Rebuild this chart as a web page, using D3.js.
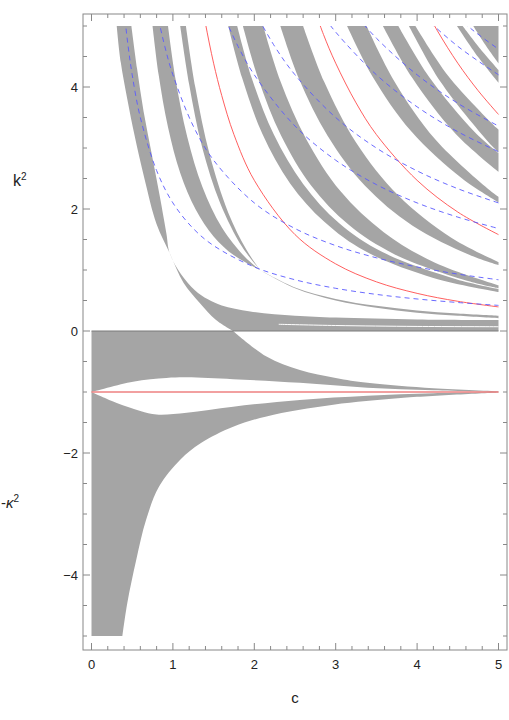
<!DOCTYPE html>
<html>
<head>
<meta charset="utf-8">
<script src="https://cdnjs.cloudflare.com/ajax/libs/d3/7.8.5/d3.min.js"></script>
<style>
body { margin: 0; background: #fff; }
text { font-family: "Liberation Sans", Arial, sans-serif; }
</style>
</head>
<body>
<svg id="chart" width="509" height="720"></svg>
<script>
// band edges, [c, k^2]
var pEdge = [[0.31,5],[0.36,4.4],[0.44,3.8],[0.53,3.2],[0.65,2.5],[0.8,1.75],[0.96,1.28],[1.13,0.79],[1.33,0.46],[1.53,0.18],[1.74,0]];
var qEdge = [[0.49,5],[0.56,4.3],[0.64,3.6],[0.74,2.9],[0.84,2.2],[0.92,1.6],[0.96,1.28],[1.1,0.93],[1.27,0.67],[1.43,0.52],[1.6,0.42],[1.95,0.32],[2.5,0.25],[3,0.22],[4,0.19],[5,0.18]];
var qGap = [[2.3,0.11],[3,0.09],[4,0.075],[5,0.07]];
var bLeft = [[0.75,5],[0.825,4.2],[0.94,3.34],[1.09,2.59],[1.28,1.99],[1.5,1.55],[1.75,1.24],[2.07,1.0]];
var bRight = [[0.94,5],[1.034,4.12],[1.175,3.19],[1.363,2.36],[1.6,1.7],[1.88,1.22],[2.07,1.0]];
var cLeft = [[1.09,5],[1.2,4.04],[1.36,3.01],[1.58,2.1],[1.85,1.38],[2.07,1.0]];
var cRight = [[1.16,5],[1.276,3.99],[1.45,2.9],[1.68,1.94],[1.9,1.34],[2.07,1.0]];
var bcLow = [[2.07,1.0],[2.5,0.7],[3,0.5],[3.5,0.38],[4,0.3],[4.5,0.25],[5,0.21]];
var bcHigh = [[2.07,1.0],[2.5,0.715],[3,0.526],[3.5,0.412],[4,0.337],[4.5,0.286],[5,0.25]];
var dLeft = [[1.68,5],[1.85,4.15],[2.1,3.23],[2.44,2.42],[2.86,1.79],[3.36,1.31],[4.2,0.87],[5,0.64]];
var dRight = [[1.79,5],[1.97,4.14],[2.24,3.22],[2.6,2.41],[3.04,1.77],[3.58,1.29],[4.48,0.85],[5,0.69]];
var eLeft = [[1.86,5],[2.05,4.13],[2.33,3.2],[2.7,2.38],[3.16,1.74],[3.72,1.26],[4.65,0.81],[5,0.7]];
var eRight = [[2.11,5],[2.32,4.1],[2.64,3.14],[3.06,2.29],[3.59,1.62],[4.22,1.12],[5,0.75]];
var fLeft = [[2.32,5],[2.55,4.13],[2.9,3.2],[3.36,2.38],[3.94,1.73],[4.64,1.25],[5,1.08]];
var fRight = [[2.6,5],[2.86,4.08],[3.25,3.09],[3.77,2.22],[4.42,1.53],[5,1.13]];
var gLeft = [[3.14,5],[3.454,4.17],[3.925,3.28],[4.553,2.5],[5,2.11]];
var gRight = [[3.38,5],[3.718,4.1],[4.225,3.14],[4.9,2.3],[5,2.2]];
var hLeft = [[3.58,5],[3.94,4.15],[4.475,3.23],[5,2.61]];
var hRight = [[3.77,5],[4.15,4.16],[4.71,3.26],[5,2.92]];
var iLeft = [[3.9,5],[4.29,4.08],[4.875,3.1],[5,2.93]];
var iRight = [[3.98,5],[4.378,4.19],[4.975,3.33],[5,3.3]];
var jLeft = [[4.49,5],[4.75,4.49],[5,4.07]];
var jRight = [[4.56,5],[4.78,4.62],[5,4.28]];
var kLeft = [[4.69,5],[4.85,4.67],[5,4.39]];
var kRight = [[4.69,5],[5,5]];
// negative region
var pNeg = [[1.74,0],[2.15,-0.42],[2.56,-0.64],[3,-0.77],[3.39,-0.85],[4.2,-0.94],[5,-0.99]];
var lensTop = [[0,-1],[0.51,-0.83],[0.92,-0.77],[1.17,-0.76],[1.74,-0.79],[2.56,-0.85],[3.39,-0.93],[4.2,-0.97],[5,-1.0]];
var lensBottom = [[0,-1],[0.31,-1.18],[0.6,-1.31],[0.8,-1.37],[1.17,-1.34],[1.74,-1.24],[2.56,-1.13],[3.39,-1.06],[4.2,-1.02],[5,-1.0]];
var lowEdge = [[0.38,-5],[0.44,-4.46],[0.55,-3.75],[0.67,-3.1],[0.83,-2.55],[1.09,-2.11],[1.34,-1.84],[1.74,-1.57],[2.15,-1.4],[2.97,-1.21],[3.8,-1.1],[5,-1.01]];
// red solid curves
var red1 = [[1.35,5.42],[1.4,5.04],[1.5,4.39],[1.6,3.86],[1.75,3.22],[2,2.47],[2.5,1.58],[3,1.1],[3.5,0.806],[4,0.617],[4.5,0.487],[5,0.395]];
var red2 = [[2.7,5.42],[2.85,4.86],[3,4.39],[3.25,3.74],[3.5,3.22],[4,2.47],[4.5,1.95],[5,1.58]];
var red3 = [[4.05,5.41],[4.25,4.92],[4.5,4.39],[4.75,3.94],[5,3.55]];
var redFlat = [[0,-1],[5,-1]];
// blue dashed curves
var blue1 = [[0.4,5.25],[0.45,4.667],[0.5,4.2],[0.6,3.5],[0.8,2.63],[1,2.1],[1.25,1.68],[1.5,1.4],[2,1.05],[2.5,0.84],[3,0.7],[3.5,0.6],[4,0.525],[4.5,0.467],[5,0.42]];
var blue2 = [[0.8,5.25],[0.9,4.667],[1,4.2],[1.25,3.36],[1.5,2.8],[2,2.1],[2.5,1.68],[3,1.4],[3.5,1.2],[4,1.05],[4.5,0.933],[5,0.84]];
var blue3 = [[1.6,5.25],[1.8,4.667],[2,4.2],[2.5,3.36],[3,2.8],[3.5,2.4],[4,2.1],[4.5,1.867],[5,1.68]];
var blue4 = [[2,5.25],[2.25,4.667],[2.5,4.2],[3,3.5],[3.5,3.0],[4,2.625],[4.5,2.333],[5,2.1]];
var blue5 = [[2.8,5.25],[3,4.9],[3.5,4.2],[4,3.675],[4.5,3.267],[5,2.94]];
var blue6 = [[3.2,5.25],[3.5,4.8],[4,4.2],[4.5,3.733],[5,3.36]];
var blue7 = [[4,5.25],[4.5,4.667],[5,4.2]];
var blue8 = [[4.4,5.25],[4.7,4.915],[5,4.62]];
var xTicks = [0, 1, 2, 3, 4, 5];
var yTicks = [-4, -2, 0, 2, 4];

var svg = d3.select('#chart');
var L = 83, R = 507, T = 14, B = 650;
var x = d3.scaleLinear().domain([0, 5]).range([91.5, 498.5]);
var y = d3.scaleLinear().domain([0, -4]).range([331, 575]);
var grey = '#a5a5a5';

svg.append('clipPath').attr('id', 'clip').append('rect')
    .attr('x', L).attr('y', y(5)).attr('width', R - L).attr('height', y(-5) - y(5));
var plot = svg.append('g').attr('clip-path', 'url(#clip)');

var line = d3.line().x(function(d) { return x(d[0]); }).y(function(d) { return y(d[1]); })
    .curve(d3.curveCatmullRom.alpha(0.5));
function cont(pts) { return line(pts).replace(/^M/, 'L'); }
function band(a, b) { return line(a) + cont(b.slice().reverse()) + 'Z'; }

// upper bands
plot.append('path').attr('fill', grey)
    .attr('d', line(pEdge) + 'L' + x(5) + ',' + y(0) + cont(qEdge.slice().reverse()) + 'Z');
[[bLeft, bRight], [cLeft, cRight], [bcLow, bcHigh], [dLeft, dRight], [eLeft, eRight],
 [fLeft, fRight], [gLeft, gRight], [hLeft, hRight], [iLeft, iRight], [jLeft, jRight], [kLeft, kRight]]
.forEach(function(p) {
    plot.append('path').attr('fill', grey).attr('d', band(p[0], p[1]));
});
plot.append('path').attr('fill', 'none').attr('stroke', '#fff').attr('stroke-width', 1).attr('d', line(qGap));

// negative region
plot.append('path').attr('fill', grey)
    .attr('d', 'M' + x(0) + ',' + y(0) + cont(pNeg) + cont(lensTop.slice().reverse()) + 'Z');
plot.append('path').attr('fill', grey)
    .attr('d', line(lensBottom) + cont(lowEdge.slice().reverse()) + 'L' + x(0) + ',' + y(-5) + 'Z');
plot.append('line').attr('x1', x(0)).attr('x2', x(5)).attr('y1', y(0)).attr('y2', y(0))
    .attr('stroke', '#7a7a7a').attr('stroke-width', 1);

// curves
[red1, red2, red3].forEach(function(r) {
    plot.append('path').attr('fill', 'none').attr('stroke', '#ff4d4d').attr('stroke-width', 0.9).attr('d', line(r));
});
plot.append('path').attr('fill', 'none').attr('stroke', '#ee8080').attr('stroke-width', 1.6).attr('d', line(redFlat));
[blue1, blue2, blue3, blue4, blue5, blue6, blue7, blue8].forEach(function(b) {
    plot.append('path').attr('fill', 'none').attr('stroke', '#5a5aff').attr('stroke-width', 0.9)
        .attr('stroke-dasharray', '5,4').attr('d', line(b));
});

// frame and ticks
var ax = svg.append('g').attr('stroke', '#888').attr('fill', 'none');
ax.append('rect').attr('x', L).attr('y', T).attr('width', R - L).attr('height', B - T);
d3.range(0, 5.01, 0.2).forEach(function(v) {
    var major = Math.abs(v - Math.round(v)) < 1e-6, len = major ? 7 : 4;
    ax.append('line').attr('x1', x(v)).attr('x2', x(v)).attr('y1', B).attr('y2', B - len);
    ax.append('line').attr('x1', x(v)).attr('x2', x(v)).attr('y1', T).attr('y2', T + len);
});
d3.range(-5, 5.01, 0.5).forEach(function(v) {
    var major = Math.abs(v / 2 - Math.round(v / 2)) < 1e-6, len = major ? 7 : 4;
    ax.append('line').attr('x1', L).attr('x2', L + len).attr('y1', y(v)).attr('y2', y(v));
    ax.append('line').attr('x1', R).attr('x2', R - len).attr('y1', y(v)).attr('y2', y(v));
});
svg.selectAll('.xl').data(xTicks).enter().append('text')
    .attr('x', function(d) { return x(d); }).attr('y', 669).attr('text-anchor', 'middle')
    .attr('font-size', 13).attr('fill', '#222').text(function(d) { return d; });
svg.selectAll('.yl').data(yTicks).enter().append('text')
    .attr('x', 78).attr('y', function(d) { return y(d) + 5; }).attr('text-anchor', 'end')
    .attr('font-size', 13).attr('fill', '#222').text(function(d) { return d < 0 ? '\u2212' + (-d) : d; });
svg.append('text').attr('x', 295).attr('y', 703).attr('text-anchor', 'middle')
    .attr('font-size', 15).attr('fill', '#222').text('c');
var k2 = svg.append('text').attr('x', 13).attr('y', 186).attr('font-size', 16)
    .attr('font-family', 'Liberation Serif, serif').attr('fill', '#222');
k2.append('tspan').text('k');
k2.append('tspan').attr('font-size', 10).attr('dy', -6).text('2');
var kap = svg.append('text').attr('x', 1).attr('y', 508).attr('font-size', 15).attr('fill', '#222');
kap.append('tspan').text('-');
kap.append('tspan').attr('font-style', 'italic').text('\u03ba');
kap.append('tspan').attr('font-size', 10).attr('dy', -6).text('2');
</script>
</body>
</html>
